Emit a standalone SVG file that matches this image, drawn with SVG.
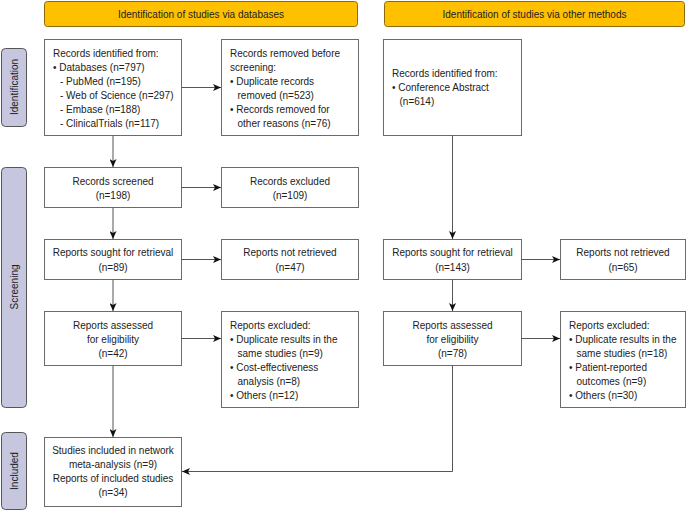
<svg xmlns="http://www.w3.org/2000/svg" width="686" height="511" viewBox="0 0 686 511">
<style>
text{font-family:"Liberation Sans",Arial,sans-serif;font-size:10px;fill:#222}
.c{text-anchor:middle}
.box{fill:#fff;stroke:#6b6b6b;stroke-width:1}
.hdr{fill:#FFC000;stroke:#8a6a10;stroke-width:1}
.side{fill:#C6C6DE;stroke:#555;stroke-width:1}
.ln{fill:none;stroke:#555;stroke-width:1}
</style>
<defs>
<marker id="ah" markerWidth="9" markerHeight="7" refX="8" refY="3.5" orient="auto" markerUnits="userSpaceOnUse">
<path d="M0,0 L8,3.5 L0,7 L2,3.5 z" fill="#111"/>
</marker>
</defs>
<g id="header-databases"><rect class="hdr" x="44.5" y="1.5" width="313" height="25" rx="3"/><text class="c" x="201" y="17.5">Identification of studies via databases</text></g>
<g id="header-other"><rect class="hdr" x="384.5" y="1.5" width="300" height="25" rx="3"/><text class="c" x="534.5" y="17.5">Identification of studies via other methods</text></g>
<g id="side-identification"><rect class="side" x="1.5" y="48.5" width="25" height="78" rx="4"/><text class="c" transform="translate(17.5,87) rotate(-90)">Identification</text></g>
<g id="side-screening"><rect class="side" x="1.5" y="167.5" width="25" height="240" rx="4"/><text class="c" transform="translate(17.5,287) rotate(-90)">Screening</text></g>
<g id="side-included"><rect class="side" x="1.5" y="432.5" width="25" height="77" rx="4"/><text class="c" transform="translate(17.5,471) rotate(-90)">Included</text></g>
<g id="records-identified"><rect class="box" x="44.5" y="39.5" width="137" height="96"/>
<text x="53" y="56.5">Records identified from:</text>
<text x="53" y="70.5">• Databases (n=797)</text>
<text x="60" y="84.5">- PubMed (n=195)</text>
<text x="60" y="98.5">- Web of Science (n=297)</text>
<text x="60" y="112.5">- Embase (n=188)</text>
<text x="60" y="126.5">- ClinicalTrials (n=117)</text></g>
<g id="records-removed"><rect class="box" x="221.5" y="39.5" width="137" height="96"/>
<text x="230" y="56.5">Records removed before</text>
<text x="230" y="70.5">screening:</text>
<text x="230" y="84.5">• Duplicate records</text>
<text x="237.5" y="98.5">removed (n=523)</text>
<text x="230" y="112.5">• Records removed for</text>
<text x="237.5" y="126.5">other reasons (n=76)</text></g>
<g id="other-identified"><rect class="box" x="383.5" y="39.5" width="138" height="96"/>
<text x="392" y="77">Records identified from:</text>
<text x="392" y="91">• Conference Abstract</text>
<text x="399.5" y="105">(n=614)</text></g>
<g id="records-screened"><rect class="box" x="44.5" y="167.5" width="137" height="40"/>
<text class="c" x="113" y="184.5">Records screened</text>
<text class="c" x="113" y="198.5">(n=198)</text></g>
<g id="records-excluded"><rect class="box" x="221.5" y="167.5" width="137" height="40"/>
<text class="c" x="290" y="184.5">Records excluded</text>
<text class="c" x="290" y="198.5">(n=109)</text></g>
<g id="sought-left"><rect class="box" x="44.5" y="239.5" width="137" height="40"/>
<text class="c" x="113" y="256">Reports sought for retrieval</text>
<text class="c" x="113" y="270.5">(n=89)</text></g>
<g id="notretrieved-left"><rect class="box" x="221.5" y="239.5" width="137" height="40"/>
<text class="c" x="290" y="256">Reports not retrieved</text>
<text class="c" x="290" y="270.5">(n=47)</text></g>
<g id="sought-right"><rect class="box" x="383.5" y="239.5" width="138" height="40"/>
<text class="c" x="452.5" y="256">Reports sought for retrieval</text>
<text class="c" x="452.5" y="270.5">(n=143)</text></g>
<g id="notretrieved-right"><rect class="box" x="560.5" y="239.5" width="125" height="40"/>
<text class="c" x="623" y="256">Reports not retrieved</text>
<text class="c" x="623" y="270.5">(n=65)</text></g>
<g id="assessed-left"><rect class="box" x="44.5" y="311.5" width="137" height="54"/>
<text class="c" x="113" y="328.5">Reports assessed</text>
<text class="c" x="113" y="342.5">for eligibility</text>
<text class="c" x="113" y="356.5">(n=42)</text></g>
<g id="excluded-left"><rect class="box" x="221.5" y="311.5" width="137" height="96"/>
<text x="230" y="328.5">Reports excluded:</text>
<text x="230" y="342.5">• Duplicate results in the</text>
<text x="237.5" y="356.5">same studies (n=9)</text>
<text x="230" y="370.5">• Cost-effectiveness</text>
<text x="237.5" y="384.5">analysis (n=8)</text>
<text x="230" y="398.5">• Others (n=12)</text></g>
<g id="assessed-right"><rect class="box" x="383.5" y="311.5" width="138" height="54"/>
<text class="c" x="452.5" y="328.5">Reports assessed</text>
<text class="c" x="452.5" y="342.5">for eligibility</text>
<text class="c" x="452.5" y="356.5">(n=78)</text></g>
<g id="excluded-right"><rect class="box" x="560.5" y="311.5" width="125" height="96"/>
<text x="569" y="328.5">Reports excluded:</text>
<text x="569" y="342.5">• Duplicate results in the</text>
<text x="576.5" y="356.5">same studies (n=18)</text>
<text x="569" y="370.5">• Patient-reported</text>
<text x="576.5" y="384.5">outcomes (n=9)</text>
<text x="569" y="398.5">• Others (n=30)</text></g>
<g id="included"><rect class="box" x="44.5" y="437.5" width="137" height="69"/>
<text class="c" x="113" y="454">Studies included in network</text>
<text class="c" x="113" y="468">meta-analysis (n=9)</text>
<text class="c" x="113" y="482">Reports of included studies</text>
<text class="c" x="113" y="496">(n=34)</text></g>
<g id="connectors">
<line class="ln" x1="113" y1="135.5" x2="113" y2="167" marker-end="url(#ah)"/>
<line class="ln" x1="113" y1="207.5" x2="113" y2="239" marker-end="url(#ah)"/>
<line class="ln" x1="113" y1="279.5" x2="113" y2="311" marker-end="url(#ah)"/>
<line class="ln" x1="113" y1="365.5" x2="113" y2="437" marker-end="url(#ah)"/>
<line class="ln" x1="181.5" y1="87.5" x2="221" y2="87.5" marker-end="url(#ah)"/>
<line class="ln" x1="181.5" y1="187.5" x2="221" y2="187.5" marker-end="url(#ah)"/>
<line class="ln" x1="181.5" y1="259.5" x2="221" y2="259.5" marker-end="url(#ah)"/>
<line class="ln" x1="181.5" y1="338.5" x2="221" y2="338.5" marker-end="url(#ah)"/>
<line class="ln" x1="452.5" y1="135.5" x2="452.5" y2="239" marker-end="url(#ah)"/>
<line class="ln" x1="452.5" y1="279.5" x2="452.5" y2="311" marker-end="url(#ah)"/>
<line class="ln" x1="521.5" y1="259.5" x2="560" y2="259.5" marker-end="url(#ah)"/>
<line class="ln" x1="521.5" y1="338.5" x2="560" y2="338.5" marker-end="url(#ah)"/>
<polyline class="ln" points="452.5,365.5 452.5,471.5 182,471.5" marker-end="url(#ah)"/>
</g>
</svg>
